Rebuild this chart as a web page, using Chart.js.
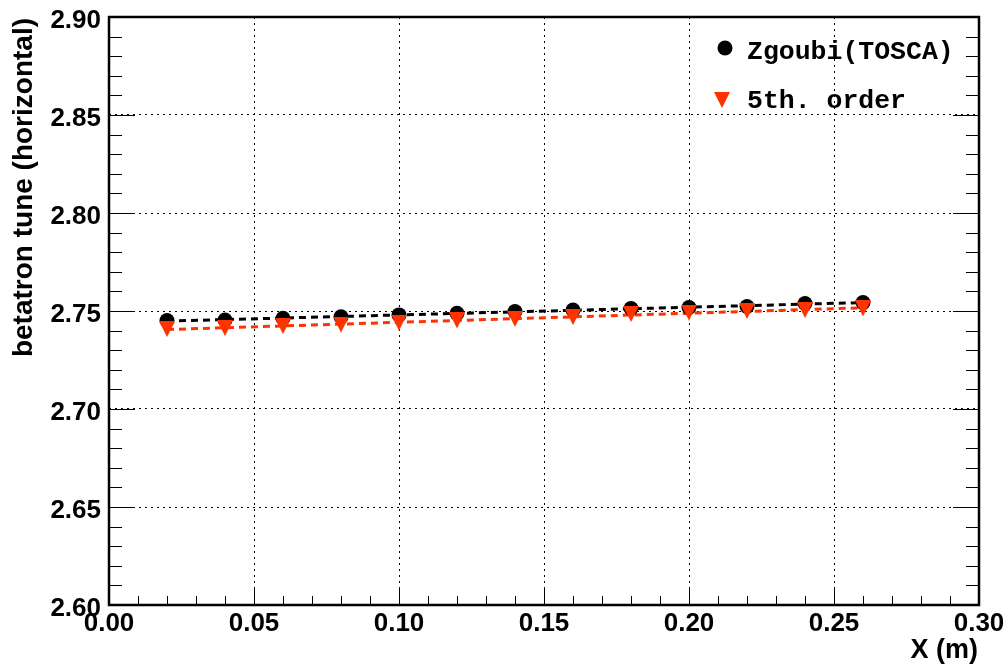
<!DOCTYPE html>
<html>
<head>
<meta charset="utf-8">
<script src="https://cdn.jsdelivr.net/npm/chart.js@4.4.1/dist/chart.umd.min.js"></script>
<style>
  html, body { margin: 0; padding: 0; background: #fff; }
  #wrap { width: 1008px; height: 666px; }
</style>
</head>
<body>
<div id="wrap"><canvas id="tuneChart" width="1008" height="666"></canvas></div>
<script>
// Horizontal betatron tune vs. X position
const xPositions = [0.02, 0.04, 0.06, 0.08, 0.10, 0.12, 0.14, 0.16, 0.18, 0.20, 0.22, 0.24, 0.26];
const zgoubiTune = [2.7451, 2.7454, 2.7463, 2.7471, 2.7480, 2.7488, 2.7497, 2.7505, 2.7513, 2.7518, 2.7523, 2.7538, 2.7543];
const fifthOrderTune = [2.7408, 2.7413, 2.7423, 2.7431, 2.7441, 2.7452, 2.7460, 2.7469, 2.7485, 2.7492, 2.7500, 2.7505, 2.7513];

const xTickValues = [0.00, 0.05, 0.10, 0.15, 0.20, 0.25, 0.30];
const yTickValues = [2.60, 2.65, 2.70, 2.75, 2.80, 2.85, 2.90];
const seriesNames = ['Zgoubi(TOSCA)', '5th. order'];

const RED = '#ff3300';

function toPoints(xs, ys) {
    return xs.map((x, i) => ({ x: x, y: ys[i] }));
}

// straight-line least squares fit, drawn between first and last x
function linearFit(xs, ys) {
    const n = xs.length;
    const mx = xs.reduce((a, b) => a + b, 0) / n;
    const my = ys.reduce((a, b) => a + b, 0) / n;
    let sxy = 0, sxx = 0;
    for (let i = 0; i < n; i++) {
        sxy += (xs[i] - mx) * (ys[i] - my);
        sxx += (xs[i] - mx) * (xs[i] - mx);
    }
    const slope = sxy / sxx;
    const b = my - slope * mx;
    return [xs[0], xs[n - 1]].map(x => ({ x: x, y: b + slope * x }));
}

// ROOT-like downward triangle, centred on its bounding box
function downTriangle(size, colour) {
    const c = document.createElement('canvas');
    c.width = size;
    c.height = size;
    const g = c.getContext('2d');
    g.beginPath();
    g.moveTo(0, 0);
    g.lineTo(size, 0);
    g.lineTo(size / 2, size);
    g.closePath();
    g.fillStyle = colour;
    g.fill();
    return c;
}
const triMarker = downTriangle(16, RED);

const frameAndTicks = {
    id: 'frameAndTicks',
    afterDraw(chart) {
        const { ctx, chartArea: a, scales: { x, y } } = chart;
        ctx.save();
        ctx.strokeStyle = '#000';
        ctx.lineWidth = 1;
        const line = (x1, y1, x2, y2) => {
            ctx.beginPath();
            ctx.moveTo(x1, y1);
            ctx.lineTo(x2, y2);
            ctx.stroke();
        };
        // 0.01 minor ticks, every fifth one is major
        for (let i = 0; i <= 30; i++) {
            const major = i % 5 === 0;
            const px = Math.round(x.getPixelForValue(i * 0.01)) + 0.5;
            line(px, a.bottom, px, a.bottom - (major ? 18 : 9));
            const py = Math.round(y.getPixelForValue(2.6 + i * 0.01)) + 0.5;
            line(a.left, py, a.left + (major ? 26 : 13), py);
            line(a.right, py, a.right - (major ? 26 : 13), py);
        }
        ctx.lineWidth = 2.5;
        ctx.strokeRect(a.left, a.top, a.right - a.left, a.bottom - a.top);

        // axis titles
        ctx.fillStyle = '#000';
        ctx.font = 'bold 27px "Liberation Sans", Arial, sans-serif';
        ctx.textAlign = 'right';
        ctx.textBaseline = 'middle';
        ctx.fillText('X (m)', 978, 651);
        ctx.save();
        ctx.translate(24, 18);
        ctx.rotate(-Math.PI / 2);
        ctx.font = 'bold 28px "Liberation Sans", Arial, sans-serif';
        ctx.fillText('betatron tune (horizontal)', 0, 0);
        ctx.restore();

        // legend
        ctx.font = 'bold 26.5px "Liberation Mono", "Courier New", monospace';
        ctx.textAlign = 'left';
        ctx.beginPath();
        ctx.arc(725, 48, 7.5, 0, Math.PI * 2);
        ctx.fill();
        ctx.fillText(seriesNames[0], 747, 52);
        ctx.drawImage(triMarker, 714, 92);
        ctx.fillText(seriesNames[1], 747, 101);
        ctx.restore();
    }
};

new Chart(document.getElementById('tuneChart'), {
    type: 'scatter',
    data: {
        datasets: [
            {
                label: seriesNames[1],
                data: toPoints(xPositions, fifthOrderTune),
                pointStyle: triMarker,
                pointRadius: 8,
                order: 1
            },
            {
                label: seriesNames[0],
                data: toPoints(xPositions, zgoubiTune),
                backgroundColor: '#000',
                borderWidth: 0,
                pointRadius: 7.5,
                order: 2
            },
            {
                label: 'fit 5th',
                data: linearFit(xPositions, fifthOrderTune),
                showLine: true,
                borderColor: RED,
                borderWidth: 3,
                borderDash: [7, 5],
                pointRadius: 0,
                order: 3
            },
            {
                label: 'fit zgoubi',
                data: linearFit(xPositions, zgoubiTune),
                showLine: true,
                borderColor: '#000',
                borderWidth: 3,
                borderDash: [7, 5],
                pointRadius: 0,
                order: 4
            }
        ]
    },
    options: {
        responsive: false,
        animation: false,
        devicePixelRatio: 1,
        layout: { padding: { top: 17, right: 29, left: 0, bottom: 0 } },
        plugins: {
            legend: { display: false },
            tooltip: { enabled: false }
        },
        scales: {
            x: {
                type: 'linear',
                min: 0,
                max: 0.3,
                afterBuildTicks: s => { s.ticks = xTickValues.map(v => ({ value: v })); },
                afterFit: s => { s.height = 61; s.paddingLeft = 0; s.paddingRight = 0; },
                grid: { color: '#000', lineWidth: 1, drawTicks: false },
                border: { display: false, dash: [2, 4] },
                ticks: {
                    padding: 3,
                    color: '#000',
                    maxRotation: 0,
                    font: { family: '"Liberation Sans", Arial, sans-serif', size: 26, weight: 'bold' },
                    callback: v => v.toFixed(2)
                }
            },
            y: {
                type: 'linear',
                min: 2.6,
                max: 2.9,
                afterBuildTicks: s => { s.ticks = yTickValues.map(v => ({ value: v })); },
                afterFit: s => { s.width = 109; s.paddingTop = 0; s.paddingBottom = 0; },
                grid: { color: '#000', lineWidth: 1, drawTicks: false },
                border: { display: false, dash: [2, 4] },
                ticks: {
                    padding: 8,
                    labelOffset: 4,
                    color: '#000',
                    font: { family: '"Liberation Sans", Arial, sans-serif', size: 26, weight: 'bold' },
                    callback: v => v.toFixed(2)
                }
            }
        }
    },
    plugins: [frameAndTicks]
});
</script>
</body>
</html>
